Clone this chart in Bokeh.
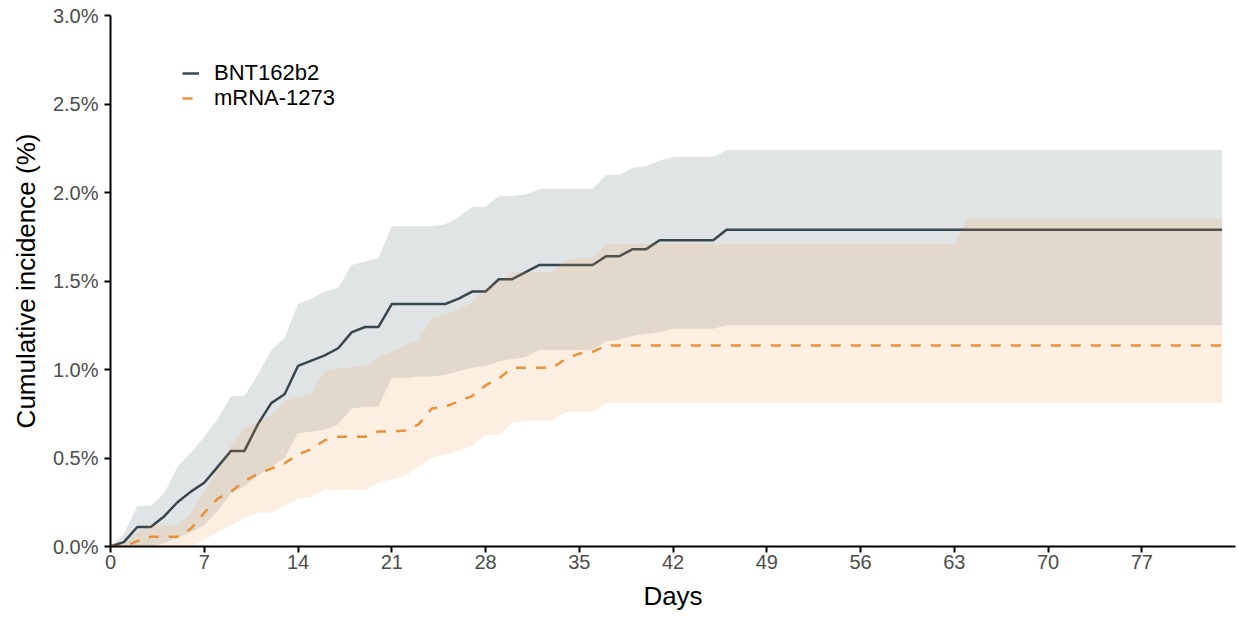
from bokeh.plotting import figure
from bokeh.models import FixedTicker, PrintfTickFormatter, Legend, LegendItem, Range1d
from bokeh.embed import file_html
from bokeh.resources import INLINE

# ---------------- data (cumulative incidence, %) ----------------
days = list(range(0, 84))

bnt_est = [0.00, 0.025, 0.11, 0.11, 0.17, 0.25, 0.31, 0.36, 0.45, 0.54,
           0.54, 0.69, 0.81, 0.86, 1.02, 1.05, 1.08, 1.12, 1.21, 1.24,
           1.24, 1.37, 1.37, 1.37, 1.37, 1.37, 1.40, 1.44, 1.44, 1.51,
           1.51, 1.55, 1.59, 1.59, 1.59, 1.59, 1.59, 1.64, 1.64, 1.68,
           1.68, 1.73, 1.73, 1.73, 1.73, 1.73] + [1.79] * 38
bnt_upper = [0.00, 0.07, 0.23, 0.23, 0.30, 0.45, 0.53, 0.62, 0.72, 0.85,
             0.85, 0.97, 1.11, 1.18, 1.37, 1.40, 1.44, 1.46, 1.59, 1.61,
             1.63, 1.81, 1.81, 1.81, 1.81, 1.82, 1.86, 1.92, 1.92, 1.98,
             1.98, 1.99, 2.02, 2.02, 2.02, 2.02, 2.02, 2.10, 2.10, 2.14,
             2.15, 2.18, 2.20, 2.20, 2.20, 2.20] + [2.24] * 38
bnt_lower = [0.00, 0.00, 0.00, 0.00, 0.02, 0.05, 0.08, 0.12, 0.20, 0.30,
             0.34, 0.40, 0.45, 0.50, 0.64, 0.65, 0.66, 0.69, 0.78, 0.79,
             0.79, 0.95, 0.95, 0.96, 0.96, 0.97, 0.99, 1.01, 1.02, 1.045,
             1.06, 1.07, 1.11, 1.11, 1.11, 1.11, 1.11, 1.16, 1.17, 1.19,
             1.20, 1.21, 1.23, 1.23, 1.23, 1.23] + [1.25] * 38

mrna_est = [0.00, 0.00, 0.03, 0.055, 0.055, 0.055, 0.10, 0.19, 0.27, 0.31,
            0.37, 0.41, 0.44, 0.47, 0.52, 0.55, 0.60, 0.62, 0.62, 0.62,
            0.65, 0.65, 0.655, 0.69, 0.78, 0.79, 0.82, 0.85, 0.91, 0.95,
            1.01, 1.01, 1.01, 1.01, 1.06, 1.09, 1.10] + [1.135] * 47
mrna_upper = [0.00, 0.02, 0.08, 0.12, 0.12, 0.12, 0.19, 0.31, 0.44, 0.57,
              0.67, 0.70, 0.74, 0.82, 0.84, 0.86, 0.99, 1.01, 1.01, 1.02,
              1.07, 1.10, 1.14, 1.16, 1.29, 1.31, 1.34, 1.38, 1.46, 1.50,
              1.55, 1.55, 1.55, 1.55, 1.62, 1.63, 1.63] + [1.71] * 27 + [1.85] * 20
mrna_lower = [0.00, 0.00, 0.00, 0.00, 0.00, 0.00, 0.00, 0.04, 0.08, 0.12,
              0.16, 0.19, 0.19, 0.23, 0.27, 0.28, 0.32, 0.32, 0.32, 0.32,
              0.36, 0.38, 0.40, 0.45, 0.50, 0.52, 0.54, 0.57, 0.63, 0.63,
              0.70, 0.71, 0.71, 0.71, 0.76, 0.76, 0.76] + [0.81] * 47

series_names = ["BNT162b2", "mRNA-1273"]
x_ticks = [0, 7, 14, 21, 28, 35, 42, 49, 56, 63, 70, 77]
y_ticks = [0, 0.5, 1.0, 1.5, 2.0, 2.5, 3.0]

BNT_COL = "#37474F"
MRNA_COL = "#E8913A"
FONT = "Liberation Sans"

p = figure(width=1238, height=618,
           x_range=Range1d(0, 84), y_range=Range1d(0, 3),
           output_backend="svg", toolbar_location=None,
           min_border_left=110, min_border_right=3,
           min_border_top=15, min_border_bottom=72)

p.varea(x=days, y1=bnt_lower, y2=bnt_upper, fill_color=BNT_COL, fill_alpha=0.15)
r_bnt = p.line(days, bnt_est, line_color=BNT_COL, line_width=2.5)
p.varea(x=days, y1=mrna_lower, y2=mrna_upper, fill_color=MRNA_COL, fill_alpha=0.15)
r_mrna = p.line(days, mrna_est, line_color=MRNA_COL, line_width=2.5, line_dash="10 10")

# axes
p.xgrid.visible = False
p.ygrid.visible = False
p.outline_line_color = None

p.xaxis.ticker = FixedTicker(ticks=x_ticks)
p.yaxis.ticker = FixedTicker(ticks=y_ticks)
p.yaxis.formatter = PrintfTickFormatter(format="%.1f%%")
p.xaxis.axis_label = "Days"
p.yaxis.axis_label = "Cumulative incidence (%)"

for ax in (p.xaxis, p.yaxis):
    ax.axis_line_color = "black"
    ax.axis_line_width = 2
    ax.major_tick_line_color = "black"
    ax.major_tick_line_width = 2
    ax.major_tick_out = 6
    ax.major_tick_in = 0
    ax.minor_tick_line_color = None
    ax.major_label_text_font = FONT
    ax.major_label_text_font_size = "20px"
    ax.major_label_text_color = "#4D4D4D"
    ax.axis_label_text_font = FONT
    ax.axis_label_text_font_size = "26px"
    ax.axis_label_text_font_style = "normal"
    ax.axis_label_text_color = "black"

p.xaxis.major_label_standoff = 2
p.xaxis.axis_label_standoff = 9
p.yaxis.major_label_standoff = 6
p.yaxis.axis_label_standoff = 9


def make_legend(label, renderer, y):
    lg = Legend(items=[LegendItem(label=label, renderers=[renderer])], location=(72, y))
    lg.background_fill_alpha = 0
    lg.border_line_color = None
    lg.padding = 0
    lg.margin = 0
    lg.glyph_width = 17
    lg.glyph_height = 20
    lg.label_standoff = 15
    lg.label_text_font = FONT
    lg.label_text_font_size = "22px"
    lg.label_text_color = "black"
    return lg


p.add_layout(make_legend(series_names[0], r_bnt, 460))
p.add_layout(make_legend(series_names[1], r_mrna, 435))

open("out.html", "w").write(file_html(p, INLINE))
